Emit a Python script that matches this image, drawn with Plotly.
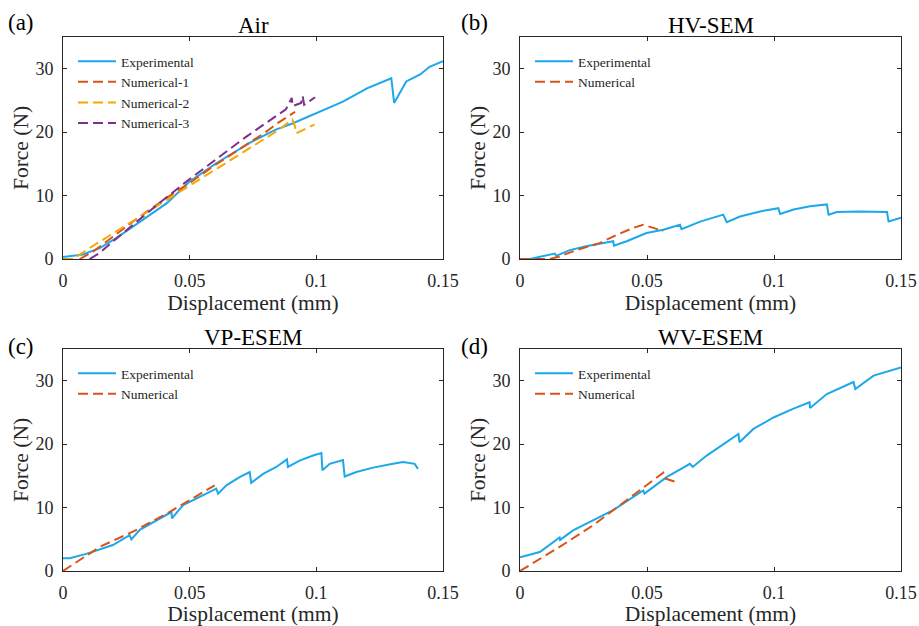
import plotly.graph_objects as go

# ---------------- data ----------------
# (a) Air
air_exp_x = [0, 0.0079, 0.0145, 0.021, 0.0316, 0.041, 0.05, 0.0605, 0.0737, 0.084, 0.0908, 0.1, 0.1105, 0.12, 0.1296, 0.1307, 0.1355, 0.141, 0.1447, 0.15]
air_exp_y = [0.3, 0.7, 1.7, 3.3, 6.2, 8.8, 12.2, 15.1, 18.3, 20.4, 21.4, 23.0, 24.8, 26.9, 28.5, 24.6, 28.0, 29.1, 30.3, 31.2]
air_n1_x = [0.0066, 0.012, 0.02, 0.03, 0.04, 0.05, 0.06, 0.07, 0.08, 0.085, 0.0916]
air_n1_y = [0, 1.2, 3.6, 6.6, 9.4, 12.0, 14.8, 17.4, 20.0, 21.5, 23.2]
air_n2_x = [0, 0.004, 0.01, 0.02, 0.03, 0.04, 0.05, 0.06, 0.07, 0.08, 0.085, 0.0905, 0.0915, 0.092, 0.0993]
air_n2_y = [0, 0, 1.6, 4.1, 6.6, 9.1, 11.6, 14.1, 16.6, 19.0, 20.3, 22.0, 21.0, 19.8, 21.2]
air_n3_x = [0.0105, 0.0145, 0.0204, 0.0276, 0.038, 0.0487, 0.06, 0.0724, 0.08, 0.088, 0.0903, 0.0906, 0.094, 0.0946, 0.0952, 0.0995]
air_n3_y = [0, 0.95, 3.0, 5.4, 8.8, 12.2, 15.6, 19.3, 21.4, 23.6, 25.4, 24.1, 24.6, 25.7, 24.3, 25.5]

# (b) HV-SEM
hv_exp_x = [0.0038, 0.009, 0.0137, 0.0142, 0.0196, 0.026, 0.0314, 0.0367, 0.037, 0.042, 0.0498, 0.0564, 0.063, 0.0636, 0.0709, 0.080, 0.0814, 0.0866, 0.0945, 0.1017, 0.1024, 0.1077, 0.1142, 0.1208, 0.1215, 0.1248, 0.134, 0.1445, 0.1451, 0.15]
hv_exp_y = [0, 0.4, 0.85, 0.5, 1.4, 2.0, 2.4, 2.8, 2.1, 2.8, 4.1, 4.6, 5.4, 4.7, 5.9, 7.0, 5.8, 6.7, 7.5, 8.0, 7.1, 7.8, 8.3, 8.6, 7.0, 7.4, 7.5, 7.4, 5.9, 6.5]
hv_num_x = [0, 0.0117, 0.0156, 0.0222, 0.0314, 0.038, 0.0446, 0.0485, 0.0525, 0.0564]
hv_num_y = [0, 0, 0.4, 1.4, 2.5, 3.8, 4.9, 5.4, 4.9, 4.4]

# (c) VP-ESEM
vp_exp_x = [0, 0.0026, 0.0092, 0.0145, 0.0197, 0.0263, 0.027, 0.0303, 0.038, 0.0428, 0.043, 0.0474, 0.054, 0.0605, 0.0612, 0.0645, 0.0697, 0.0737, 0.0743, 0.079, 0.0842, 0.0884, 0.0888, 0.0934, 0.0987, 0.102, 0.1024, 0.1053, 0.1105, 0.1112, 0.1158, 0.1224, 0.1303, 0.1342, 0.1388, 0.1401]
vp_exp_y = [2.0, 2.0, 2.7, 3.4, 4.1, 5.65, 5.0, 6.5, 8.3, 9.3, 8.3, 10.4, 11.7, 13.0, 12.2, 13.5, 14.8, 15.6, 13.9, 15.3, 16.4, 17.6, 16.4, 17.4, 18.2, 18.6, 15.9, 16.9, 17.5, 14.9, 15.6, 16.3, 16.9, 17.2, 16.9, 16.1]
vp_num_x = [0, 0.0145, 0.0276, 0.042, 0.0599]
vp_num_y = [0, 3.8, 6.2, 9.3, 13.5]

# (d) WV-ESEM
wv_exp_x = [0, 0.0078, 0.0156, 0.0158, 0.0209, 0.0288, 0.0367, 0.0485, 0.049, 0.0577, 0.0669, 0.068, 0.0735, 0.086, 0.0864, 0.0919, 0.0998, 0.1077, 0.114, 0.1142, 0.1208, 0.1313, 0.132, 0.1392, 0.15]
wv_exp_y = [2.15, 3.0, 5.3, 4.9, 6.4, 8.0, 9.6, 12.7, 12.2, 14.8, 16.9, 16.4, 18.2, 21.6, 20.3, 22.4, 24.2, 25.6, 26.6, 25.7, 27.9, 29.8, 28.7, 30.8, 32.1]
wv_num_x = [0, 0.0156, 0.0288, 0.042, 0.0498, 0.0564, 0.057, 0.0617]
wv_num_y = [0, 3.8, 7.2, 11.2, 13.5, 15.5, 14.6, 14.0]

titles = ["Air", "HV-SEM", "VP-ESEM", "WV-ESEM"]
panel_labels = ["(a)", "(b)", "(c)", "(d)"]
x_ticks = [0, 0.05, 0.1, 0.15]
x_tick_text = ["0", "0.05", "0.1", "0.15"]
y_ticks = [0, 10, 20, 30]

# ---------------- style ----------------
FONT = "Liberation Serif, Times New Roman, serif"
BLUE = "#1CA8EA"
RED = "#D95319"
ORANGE = "#F7A800"
PURPLE = "#7E2F8E"
DASH = "10px,5px"
INK = "#262626"

W, H = 919, 626
xdoms = [[63 / W, 443 / W], [520 / W, 901 / W]]
ydoms = [[1 - 259 / H, 1 - 37 / H], [1 - 571 / H, 1 - 349 / H]]
label_dx = [57, 61]      # px left of the axes for panel letters, per column
label_dy = [15, 2]       # px above the axes for panel letters, per row

fig = go.Figure()

panels = [
    (0, 0, [("Experimental", air_exp_x, air_exp_y, BLUE, "solid"),
            ("Numerical-1", air_n1_x, air_n1_y, RED, DASH),
            ("Numerical-2", air_n2_x, air_n2_y, ORANGE, DASH),
            ("Numerical-3", air_n3_x, air_n3_y, PURPLE, DASH)]),
    (1, 0, [("Experimental", hv_exp_x, hv_exp_y, BLUE, "solid"),
            ("Numerical", hv_num_x, hv_num_y, RED, DASH)]),
    (0, 1, [("Experimental", vp_exp_x, vp_exp_y, BLUE, "solid"),
            ("Numerical", vp_num_x, vp_num_y, RED, DASH)]),
    (1, 1, [("Experimental", wv_exp_x, wv_exp_y, BLUE, "solid"),
            ("Numerical", wv_num_x, wv_num_y, RED, DASH)]),
]

for i, (col, row, series) in enumerate(panels):
    n = i + 1
    xa = "x" if n == 1 else f"x{n}"
    ya = "y" if n == 1 else f"y{n}"
    lg = "legend" if n == 1 else f"legend{n}"
    for name, xs, ys, color, dash in series:
        fig.add_trace(go.Scatter(
            x=xs, y=ys, mode="lines", name=name,
            line=dict(color=color, width=2, dash=dash),
            xaxis=xa, yaxis=ya, legend=lg, showlegend=True,
        ))
    axis_common = dict(
        showline=True, linecolor=INK, linewidth=1, mirror="ticks",
        ticks="inside", ticklen=4, tickcolor=INK, showgrid=False,
        zeroline=False, tickfont=dict(family=FONT, size=18, color=INK),
    )
    xkey = "xaxis" if n == 1 else f"xaxis{n}"
    ykey = "yaxis" if n == 1 else f"yaxis{n}"
    fig.layout[xkey] = dict(
        axis_common, domain=xdoms[col], anchor=ya, range=[0, 0.15],
        tickvals=x_ticks, ticktext=x_tick_text, ticklabelstandoff=5,
        title=dict(text="Displacement (mm)", font=dict(family=FONT, size=21.5, color=INK), standoff=0),
    )
    fig.layout[ykey] = dict(
        axis_common, domain=ydoms[row], anchor=xa, range=[0, 35],
        tickvals=y_ticks, ticklabelstandoff=5,
        title=dict(text="Force (N)", font=dict(family=FONT, size=21.5, color=INK), standoff=0),
    )
    x0, x1 = xdoms[col]
    y0, y1 = ydoms[row]
    fig.layout[lg] = dict(
        x=x0 + 10 / W, y=y1 - 9 / H, xanchor="left", yanchor="top",
        bgcolor="rgba(0,0,0,0)", borderwidth=0,
        font=dict(family=FONT, size=13.5, color=INK),
        tracegroupgap=0, itemwidth=38,
    )
    fig.add_annotation(
        text=titles[i], xref="paper", yref="paper",
        x=(x0 + x1) / 2, y=y1 + 11.5 / H, xanchor="center", yanchor="middle",
        showarrow=False, font=dict(family=FONT, size=23, color="black"),
    )
    fig.add_annotation(
        text=panel_labels[i], xref="paper", yref="paper",
        x=x0 - label_dx[col] / W, y=y1 + label_dy[row] / H,
        xanchor="left", yanchor="middle",
        showarrow=False, font=dict(family=FONT, size=23, color="black"),
    )

fig.update_layout(
    width=W, height=H, margin=dict(l=0, r=0, t=0, b=0, autoexpand=False),
    paper_bgcolor="white", plot_bgcolor="white",
)

fig.write_html("out.html")
